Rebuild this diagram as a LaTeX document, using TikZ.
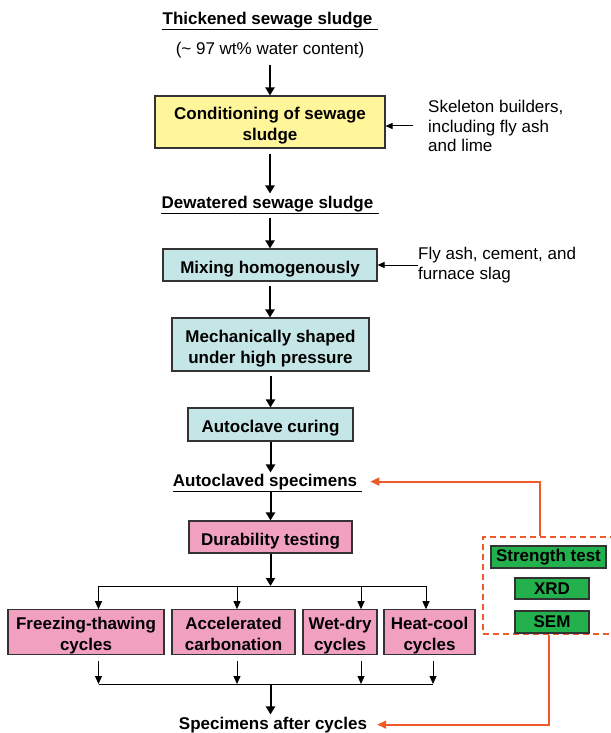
\documentclass[tikz,border=0pt]{standalone}
\usepackage{fontspec}
\setmainfont{Liberation Sans}
\usetikzlibrary{arrows.meta,positioning}

\definecolor{condyellow}{RGB}{255,245,155}
\definecolor{mixcyan}{RGB}{197,230,230}
\definecolor{durpink}{RGB}{242,160,192}
\definecolor{testgreen}{RGB}{34,177,76}
\definecolor{linkorange}{RGB}{240,90,40}

\newcommand{\topstrut}{\rule{0pt}{20pt}}
\newcommand{\botstrut}{\rule[-3.6pt]{0pt}{1pt}}

\begin{document}
\begin{tikzpicture}[x=1pt,y=-1pt,
    font=\fontsize{17}{19.5}\selectfont,
    stage/.style={draw=black!80,line width=1.1pt,align=center,inner sep=0pt,
        font=\fontsize{17}{21}\selectfont\bfseries},
    heading/.style={anchor=base,inner sep=0pt,font=\fontsize{17}{20}\selectfont\bfseries,
        append after command={[line width=1.1pt]
            ([yshift=-1.2pt]\tikzlastnode.south west) edge ([yshift=-1.2pt]\tikzlastnode.south east)}},
    flow/.style={line width=2pt,-{Triangle[length=8pt,width=9pt]}},
    branch/.style={line width=1pt,-{Triangle[length=8pt,width=7pt]}},
    side/.style={line width=1pt,-{Triangle[length=7pt,width=6pt]}},
    link/.style={linkorange,line width=1.8pt,-{Triangle[length=9pt,width=8pt]}},
    testbox/.style={stage,fill=testgreen,minimum height=21pt}]
    \useasboundingbox (0,0) rectangle (610,733);

    % Sludge preparation
    \node[heading] (thick) at (270,24.5) {Thickened sewage sludge\kern5pt};
    \node[anchor=base,inner sep=0pt] (water) at (270,55) {(\textasciitilde{} 97 wt\% water content)};
    \node[stage,fill=condyellow,minimum width=230pt,minimum height=52pt] (cond) at (270,122)
        {\topstrut Conditioning of sewage\\sludge};
    \node[anchor=west,inner sep=0pt,align=left] (skel) at (428,126)
        {Skeleton builders,\\including fly ash\\and lime};
    \node[heading] (dewat) at (270,208) {Dewatered sewage sludge\kern5pt};

    % Forming and curing
    \node[stage,fill=mixcyan,minimum width=214pt,minimum height=32pt] (mix) at (270,265)
        {\topstrut Mixing homogenously};
    \node[anchor=west,inner sep=0pt,align=left] (fly) at (418,265)
        {Fly ash, cement, and\\furnace slag};
    \node[stage,fill=mixcyan,minimum width=197pt,minimum height=53pt] (mech) at (270.5,344.5)
        {\topstrut Mechanically shaped\\under high pressure};
    \node[stage,fill=mixcyan,minimum width=165pt,minimum height=33pt] (cure) at (270.5,424.5)
        {\topstrut Autoclave curing};
    \node[heading] (autoc) at (267.5,486) {Autoclaved specimens\kern5pt};

    % Durability cycles
    \node[stage,fill=durpink,minimum width=163pt,minimum height=32pt] (dur) at (270.5,537)
        {\topstrut Durability testing};
    \node[stage,fill=durpink,minimum width=156pt,minimum height=42pt] (freeze) at (86,632)
        {\topstrut Freezing-thawing\\cycles};
    \node[stage,fill=durpink,minimum width=123pt,minimum height=42pt] (accel) at (233.5,632)
        {\topstrut Accelerated\\carbonation\botstrut};
    \node[stage,fill=durpink,minimum width=74pt,minimum height=42pt] (wet) at (340,632)
        {\topstrut Wet-dry\\cycles};
    \node[stage,fill=durpink,minimum width=91pt,minimum height=42pt] (heat) at (429.5,632)
        {\topstrut Heat-cool\\cycles};
    \node[heading] (after) at (275,729) {Specimens after cycles\kern4pt};

    % Tests
    \node[draw=linkorange,line width=1.2pt,dash pattern=on 6pt off 4pt,
        minimum width=133pt,minimum height=97pt] (tests) at (549.5,585.5) {};
    \node[testbox,minimum width=115pt,minimum height=22pt] (strength) at (548.5,557) {Strength test};
    \node[testbox,minimum width=74pt] (xrd) at (552,588.5) {XRD};
    \node[testbox,minimum width=74pt,minimum height=22pt] (sem) at (552,622) {SEM};

    % Main flow
    \draw[flow,shorten <=6pt] (water.south) -- (cond.north);
    \draw[flow,shorten <=5pt,shorten >=2pt] (cond.south) -- (dewat.north);
    \draw[side] ([xshift=-15pt]skel.west) -- (skel.west -| cond.east);
    \draw[flow,shorten <=6pt] (dewat.south -| mix.north) -- (mix.north);
    \draw[side] (fly.west) -- (fly.west -| mix.east);
    \draw[flow,shorten <=4pt] (mix.south) -- (mix.south |- mech.north);
    \draw[flow,shorten <=4pt] (mech.south) -- (cure.north);
    \draw[flow,shorten >=1pt] (cure.south) -- (cure.south |- autoc.north);
    \draw[flow,shorten <=1pt] (autoc.south -| dur.north) -- (dur.north);

    % Branches
    \foreach \n/\bx/\cx in {freeze/98.5/98.5,accel/237/237,wet/361/361,heat/426/433} {
        \coordinate (top-\n) at (\bx,586);
        \coordinate (bot-\n) at (\cx,684);
        \draw[branch] (top-\n) -- (top-\n |- \n.north);
        \draw[branch,shorten <=6pt] (\n.south -| bot-\n) -- (bot-\n);
    }
    \draw[line width=1pt] (top-freeze) -- (top-heat);
    \draw[line width=1pt] (bot-freeze) -- (bot-heat);
    \draw[flow] (dur.south) -- (dur.south |- top-freeze);
    \draw[flow,shorten >=2pt] (bot-freeze -| dur.south) -- (after.north -| dur.south);

    % Test links
    \draw[link] ([xshift=-9.5pt]tests.north) |- ([xshift=8pt]autoc.east);
    \draw[link] ([xshift=-0.5pt]tests.south) |- ([xshift=6pt]after.east);
\end{tikzpicture}
\end{document}
